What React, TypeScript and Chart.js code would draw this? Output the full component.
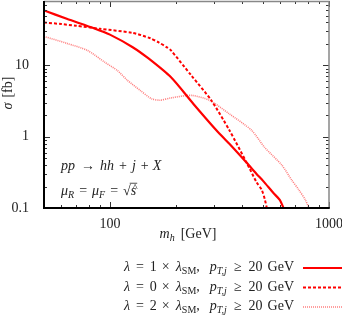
import { useEffect, useRef } from 'react';
import { Chart, registerables } from 'chart.js';

Chart.register(...registerables);

// ---- data ----
const massLam1 = [50, 63.5, 85, 100, 127, 150, 190, 240, 306, 350, 421, 467, 500, 560, 596, 620];
const sigmaLam1 = [59, 45, 33, 27, 18, 12.5, 6.8, 2.9, 1.23, 0.8, 0.43, 0.3, 0.24, 0.16, 0.13, 0.1];

const massLam0 = [50, 60, 70, 90, 127, 153, 167, 182, 190, 235, 290, 351, 421, 467, 493, 510, 520];
const sigmaLam0 = [40, 38, 36, 32.6, 28.6, 24, 21, 17.9, 16.2, 7.25, 3.24, 1.23, 0.43, 0.23, 0.18, 0.13, 0.1];

const massLam2 = [50, 63.5, 79, 95, 108, 120, 137, 155, 170, 190, 235, 284, 350, 443, 508, 609, 676, 728, 780, 810];
const sigmaLam2 = [25.5, 20.4, 16.2, 11, 8.5, 6.2, 4.5, 3.4, 3.25, 3.5, 3.8, 3.25, 2.1, 1.23, 0.71, 0.4, 0.246, 0.18, 0.13, 0.1];

const lambdaFactors = ['1', '0', '2'];

const xMin = 50;
const xMax = 1000;
const yMin = 0.1;
const yMax = 80;

const xMajorTicks = [100, 1000];
const xMinorTicks = [60, 70, 80, 90, 200, 300, 400, 500, 600, 700, 800, 900];
const yMajorTicks = [0.1, 1, 10];
const yMinorTicks = [0.2, 0.3, 0.4, 0.5, 0.6, 0.7, 0.8, 0.9, 2, 3, 4, 5, 6, 7, 8, 9, 20, 30, 40, 50, 60, 70];

const FONT = '"Liberation Serif", "Times New Roman", serif';

type Seg = { t: string; it?: boolean; sub?: boolean; hat?: boolean; g?: number };

function segFont(s: Seg, size: number) {
  const sz = s.sub ? Math.round(size * 0.72) : size;
  return `${s.it ? 'italic ' : ''}${sz}px ${FONT}`;
}

function richWidth(ctx: CanvasRenderingContext2D, segs: Seg[], size: number) {
  let w = 0;
  for (const s of segs) {
    ctx.font = segFont(s, size);
    w += (s.g || 0) + ctx.measureText(s.t).width;
  }
  return w;
}

function drawRich(
  ctx: CanvasRenderingContext2D,
  segs: Seg[],
  x: number,
  y: number,
  size: number,
  align: 'left' | 'right' | 'center'
) {
  const w = richWidth(ctx, segs, size);
  let cx = align === 'right' ? x - w : align === 'center' ? x - w / 2 : x;
  ctx.textAlign = 'left';
  ctx.textBaseline = 'alphabetic';
  for (const s of segs) {
    cx += s.g || 0;
    ctx.font = segFont(s, size);
    const sw = ctx.measureText(s.t).width;
    ctx.fillText(s.t, cx, s.sub ? y + 3 : y);
    if (s.hat) {
      ctx.save();
      ctx.lineWidth = 0.8;
      ctx.beginPath();
      ctx.moveTo(cx - 1, y - size * 0.84);
      ctx.lineTo(cx + sw + 1, y - size * 0.84);
      ctx.stroke();
      ctx.font = `${Math.round(size * 0.75)}px ${FONT}`;
      ctx.fillText('^', cx + sw * 0.3, y - size * 0.3);
      ctx.restore();
    }
    cx += sw;
  }
}

const legendSegs = (f: string): Seg[] => [
  { t: 'λ', it: true },
  { t: '=', g: 6 },
  { t: f, g: 6 },
  { t: '×', g: 5 },
  { t: 'λ', it: true, g: 6 },
  { t: 'SM', sub: true },
  { t: ',' },
  { t: 'p', it: true, g: 10 },
  { t: 'T,j', it: true, sub: true },
  { t: '≥', g: 7 },
  { t: '20', g: 7 },
  { t: 'GeV', g: 5 },
];

const processSegs: Seg[] = [
  { t: 'pp', it: true },
  { t: '→', g: 6 },
  { t: 'hh', it: true, g: 5 },
  { t: '+', g: 5 },
  { t: 'j', it: true, g: 5 },
  { t: '+', g: 5 },
  { t: 'X', it: true, g: 4 },
];

const scaleSegs: Seg[] = [
  { t: 'μ', it: true },
  { t: 'R', it: true, sub: true },
  { t: '=', g: 5 },
  { t: 'μ', it: true, g: 5 },
  { t: 'F', it: true, sub: true },
  { t: '=', g: 5 },
  { t: '√', g: 5 },
  { t: 's', it: true, hat: true },
];

const xTitleSegs: Seg[] = [
  { t: 'm', it: true },
  { t: 'h', it: true, sub: true },
  { t: '[GeV]', g: 6 },
];

const yTitleSegs: Seg[] = [{ t: 'σ', it: true }, { t: '[fb]', g: 5 }];

const lineStyles = [
  { color: '#ff0000', width: 2.2, dash: [] as number[] },
  { color: '#ff0000', width: 2, dash: [3, 2] },
  { color: 'rgba(255,40,40,0.6)', width: 1.6, dash: [1, 1] },
];

const decorPlugin = {
  id: 'decor',
  afterDraw(chart: any) {
    const ctx: CanvasRenderingContext2D = chart.ctx;
    const { left, right, top, bottom } = chart.chartArea;
    const xs = chart.scales.x;
    const ys = chart.scales.y;
    ctx.save();
    ctx.strokeStyle = '#333';
    ctx.lineWidth = 1;
    const xt = (v: number, len: number) => {
      const px = Math.round(xs.getPixelForValue(v)) + 0.5;
      ctx.beginPath();
      ctx.moveTo(px, bottom);
      ctx.lineTo(px, bottom - len);
      ctx.moveTo(px, top);
      ctx.lineTo(px, top + len);
      ctx.stroke();
    };
    const yt = (v: number, len: number) => {
      const py = Math.round(ys.getPixelForValue(v)) + 0.5;
      ctx.beginPath();
      ctx.moveTo(left, py);
      ctx.lineTo(left + len, py);
      ctx.moveTo(right, py);
      ctx.lineTo(right - len, py);
      ctx.stroke();
    };
    xMinorTicks.forEach((v) => xt(v, 3));
    xMajorTicks.forEach((v) => xt(v, 6));
    yMinorTicks.forEach((v) => yt(v, 3));
    yMajorTicks.forEach((v) => yt(v, 6));

    ctx.strokeStyle = '#888';
    ctx.lineWidth = 1.5;
    ctx.beginPath();
    ctx.moveTo(left, top + 0.5);
    ctx.lineTo(right, top + 0.5);
    ctx.lineTo(right, bottom);
    ctx.stroke();
    ctx.strokeStyle = '#000';
    ctx.lineWidth = 2;
    ctx.beginPath();
    ctx.moveTo(left, top);
    ctx.lineTo(left, bottom);
    ctx.lineTo(right + 0.75, bottom);
    ctx.stroke();

    ctx.fillStyle = '#222';
    ctx.strokeStyle = '#222';
    drawRich(ctx, processSegs, 61, 170, 14, 'left');
    drawRich(ctx, scaleSegs, 61, 195, 14, 'left');

    drawRich(ctx, xTitleSegs, 188, 238, 14, 'center');
    ctx.save();
    ctx.translate(12, 93);
    ctx.rotate(-Math.PI / 2);
    drawRich(ctx, yTitleSegs, 0, 0, 14, 'center');
    ctx.restore();

    const rowY = [271, 290.5, 310];
    lambdaFactors.forEach((f, i) => {
      ctx.fillStyle = '#222';
      drawRich(ctx, legendSegs(f), 294, rowY[i], 14, 'right');
      const st = lineStyles[i];
      ctx.strokeStyle = st.color;
      ctx.lineWidth = st.width;
      ctx.setLineDash(st.dash);
      ctx.beginPath();
      ctx.moveTo(303, rowY[i] - 3);
      ctx.lineTo(342, rowY[i] - 3);
      ctx.stroke();
      ctx.setLineDash([]);
    });
    ctx.restore();
  },
};

function isDecade(v: number) {
  const l = Math.log10(v);
  return Math.abs(l - Math.round(l)) < 1e-6;
}

export default function App() {
  const ref = useRef<HTMLCanvasElement | null>(null);
  useEffect(() => {
    document.body.style.margin = '0';
    const canvas = ref.current;
    if (!canvas) return;
    const mk = (xs: number[], ys: number[]) => xs.map((x, i) => ({ x, y: ys[i] }));
    const series = [mk(massLam1, sigmaLam1), mk(massLam0, sigmaLam0), mk(massLam2, sigmaLam2)];
    const chart = new Chart(canvas, {
      type: 'line',
      data: {
        datasets: series.map((d, i) => ({
          label: `lambda ${lambdaFactors[i]}`,
          data: d,
          borderColor: lineStyles[i].color,
          borderWidth: lineStyles[i].width,
          borderDash: lineStyles[i].dash,
          pointRadius: 0,
          fill: false,
          tension: 0.25,
        })),
      },
      options: {
        animation: false,
        responsive: false,
        devicePixelRatio: 1,
        layout: { padding: { top: 1, right: 13, left: 0, bottom: 0 } },
        plugins: { legend: { display: false }, tooltip: { enabled: false } },
        scales: {
          x: {
            type: 'logarithmic',
            min: xMin,
            max: xMax,
            grid: { display: false, drawTicks: false },
            border: { display: false },
            afterFit: (s: any) => {
              s.height = 108;
              s.paddingLeft = 0;
              s.paddingRight = 0;
            },
            ticks: {
              autoSkip: false,
              maxRotation: 0,
              padding: 8,
              color: '#222',
              font: { family: FONT, size: 14 },
              callback: (v: any) => (xMajorTicks.includes(Number(v)) ? String(v) : ''),
            },
          },
          y: {
            type: 'logarithmic',
            min: yMin,
            max: yMax,
            grid: { display: false, drawTicks: false },
            border: { display: false },
            afterFit: (s: any) => {
              s.width = 44;
              s.paddingTop = 0;
              s.paddingBottom = 0;
            },
            ticks: {
              autoSkip: false,
              padding: 15,
              color: '#222',
              font: { family: FONT, size: 14 },
              callback: (v: any) => {
                const n = Number(v);
                if (!isDecade(n)) return '';
                return n < 1 ? n.toFixed(1) : String(Math.round(n));
              },
            },
          },
        },
      },
      plugins: [decorPlugin],
    } as any);
    return () => chart.destroy();
  }, []);
  return <canvas ref={ref} width={342} height={316} style={{ display: 'block' }} />;
}
